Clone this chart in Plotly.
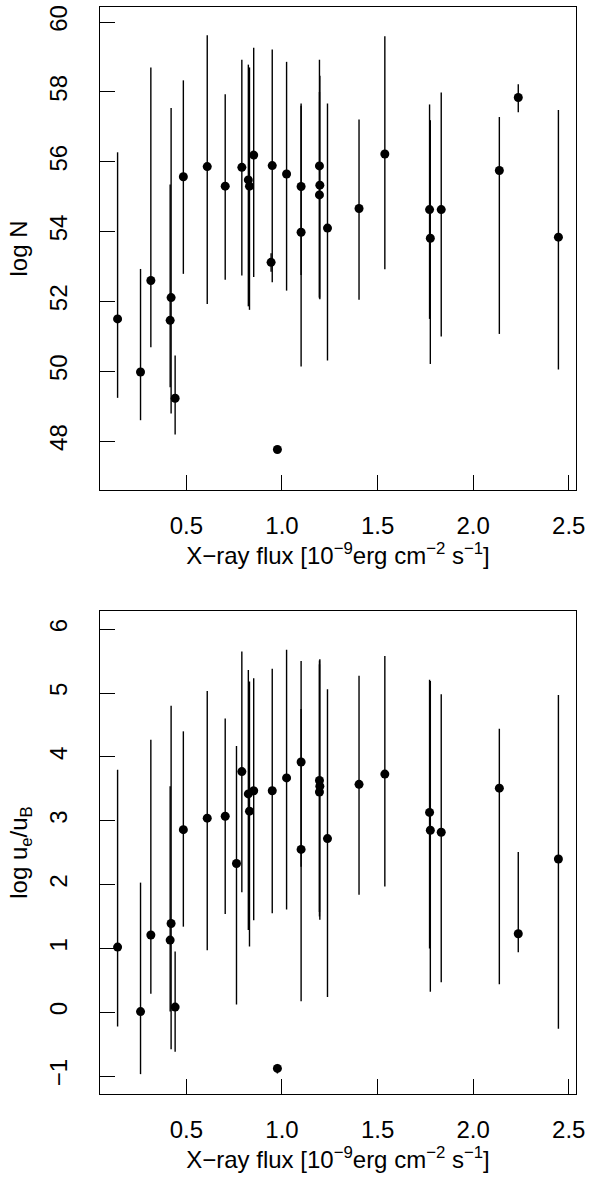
import plotly.graph_objects as go

# ---- Top panel: log N ----
flux_top = [0.140, 0.260, 0.314, 0.415, 0.420, 0.441, 0.484, 0.609, 0.703, 0.790,
            0.824, 0.830, 0.852, 0.943, 0.949, 0.976, 1.024, 1.100, 1.100, 1.196,
            1.198, 1.196, 1.238, 1.403, 1.538, 1.772, 1.776, 1.833, 2.137, 2.236, 2.446]
logN = [51.50, 49.98, 52.60, 51.46, 52.11, 49.23, 55.57, 55.86, 55.30, 55.84,
        55.48, 55.30, 56.19, 53.12, 55.89, 47.76, 55.65, 55.29, 53.98, 55.88,
        55.33, 55.05, 54.10, 54.66, 56.22, 54.63, 53.81, 54.63, 55.75, 57.84, 53.84]
logN_lo = [49.24, 48.60, 50.69, 49.54, 48.79, 48.19, 52.79, 51.93, 52.62, 52.74,
           51.86, 51.76, 52.70, 52.85, 52.55, 47.76, 52.31, 52.76, 50.14, 52.09,
           52.06, 52.12, 50.31, 52.05, 52.92, 51.50, 50.21, 51.00, 51.07, 57.42, 50.05]
logN_hi = [56.27, 52.93, 58.70, 55.35, 57.54, 50.45, 58.33, 59.62, 57.93, 58.92,
           58.78, 58.70, 59.26, 53.38, 59.21, 47.76, 58.86, 57.67, 57.60, 58.92,
           58.46, 58.00, 57.67, 57.21, 59.59, 57.64, 57.19, 57.98, 57.28, 58.22, 57.48]

# ---- Bottom panel: log ue/uB ----
flux_bot = [0.140, 0.260, 0.314, 0.415, 0.420, 0.441, 0.484, 0.609, 0.703, 0.762,
            0.790, 0.824, 0.830, 0.852, 0.949, 0.976, 1.024, 1.100, 1.100, 1.196,
            1.198, 1.196, 1.238, 1.403, 1.538, 1.772, 1.776, 1.833, 2.137, 2.236, 2.446]
logU = [1.02, 0.01, 1.21, 1.13, 1.39, 0.08, 2.86, 3.04, 3.07, 2.33,
        3.77, 3.42, 3.15, 3.47, 3.47, -0.88, 3.67, 3.92, 2.55, 3.63,
        3.54, 3.45, 2.72, 3.57, 3.73, 3.13, 2.85, 2.82, 3.51, 1.23, 2.40]
logU_lo = [-0.225, -0.97, 0.29, 0.01, -0.58, -0.62, 1.34, 0.97, 1.54, 0.12,
           1.88, 1.29, 1.03, 1.44, 1.55, -0.96, 1.61, 2.28, 0.17, 1.57,
           1.45, 1.50, 0.24, 1.84, 1.97, 1.00, 0.32, 0.47, 0.44, 0.94, -0.26]
logU_hi = [3.80, 2.03, 4.27, 3.54, 4.80, 0.95, 4.40, 5.03, 4.60, 4.17,
           5.65, 5.36, 5.18, 5.23, 5.38, -0.81, 5.68, 5.50, 4.75, 5.51,
           5.53, 5.45, 5.06, 5.27, 5.58, 5.21, 5.19, 4.98, 4.44, 2.51, 4.97]

x_ticks = [0.5, 1.0, 1.5, 2.0, 2.5]
x_ticklabels = ["0.5", "1.0", "1.5", "2.0", "2.5"]
top_ticks = [48, 50, 52, 54, 56, 58, 60]
bot_ticks = [-1, 0, 1, 2, 3, 4, 5, 6]
bot_ticklabels = ["\u22121", "0", "1", "2", "3", "4", "5", "6"]

x_title = "X\u2212ray flux [10<sup>\u22129</sup>erg cm<sup>\u22122</sup> s<sup>\u22121</sup>]"

FONT = "Liberation Sans, Arial, Helvetica, sans-serif"
FS = 24


def trace(x, y, lo, hi, xa, ya):
    return go.Scatter(
        x=x, y=y, mode="markers", xaxis=xa, yaxis=ya,
        marker=dict(color="black", size=9, line=dict(width=0)),
        error_y=dict(type="data", symmetric=False,
                     array=[h - v for h, v in zip(hi, y)],
                     arrayminus=[v - l for v, l in zip(y, lo)],
                     width=0, thickness=1.4, color="black"),
        showlegend=False, hoverinfo="x+y",
    )


fig = go.Figure()
fig.add_trace(trace(flux_top, logN, logN_lo, logN_hi, "x", "y"))
fig.add_trace(trace(flux_bot, logU, logU_lo, logU_hi, "x2", "y2"))

common_x = dict(range=[0.048, 2.538], tickvals=x_ticks, ticktext=x_ticklabels,
                ticks="inside", ticklen=15, tickwidth=1.3, tickcolor="black",
                showline=True, linewidth=1.3, linecolor="black", mirror=True,
                showgrid=False, zeroline=False, ticklabelstandoff=14,
                tickfont=dict(size=FS, color="black"))
common_y = dict(ticks="inside", ticklen=15, tickwidth=1.3, tickcolor="black",
                showline=True, linewidth=1.3, linecolor="black", mirror=True,
                showgrid=False, zeroline=False, tickangle=-90, ticklabelstandoff=22,
                tickfont=dict(size=FS, color="black"))

fig.update_layout(
    width=590, height=1183,
    margin=dict(l=100, r=12, t=5, b=89),
    paper_bgcolor="white", plot_bgcolor="white",
    font=dict(family=FONT, size=FS, color="black"),
    xaxis=dict(domain=[0, 1], anchor="y",
               title=dict(text=x_title, standoff=6, font=dict(size=FS)), **common_x),
    yaxis=dict(domain=[0.5556, 1.0], anchor="x", range=[46.60, 60.43],
               tickvals=top_ticks, ticktext=[str(t) for t in top_ticks],
               title=dict(text="log N", standoff=10, font=dict(size=FS)), **common_y),
    xaxis2=dict(domain=[0, 1], anchor="y2",
                title=dict(text=x_title, standoff=6, font=dict(size=FS)), **common_x),
    yaxis2=dict(domain=[0.0, 0.4444], anchor="x2", range=[-1.281, 6.286],
                tickvals=bot_ticks, ticktext=bot_ticklabels,
                title=dict(text="log u<sub>e</sub>/u<sub>B</sub>", standoff=10,
                           font=dict(size=FS)), **common_y),
)

fig.write_html("out.html", config={"displayModeBar": False},
               post_script="document.body.style.margin='0';")
